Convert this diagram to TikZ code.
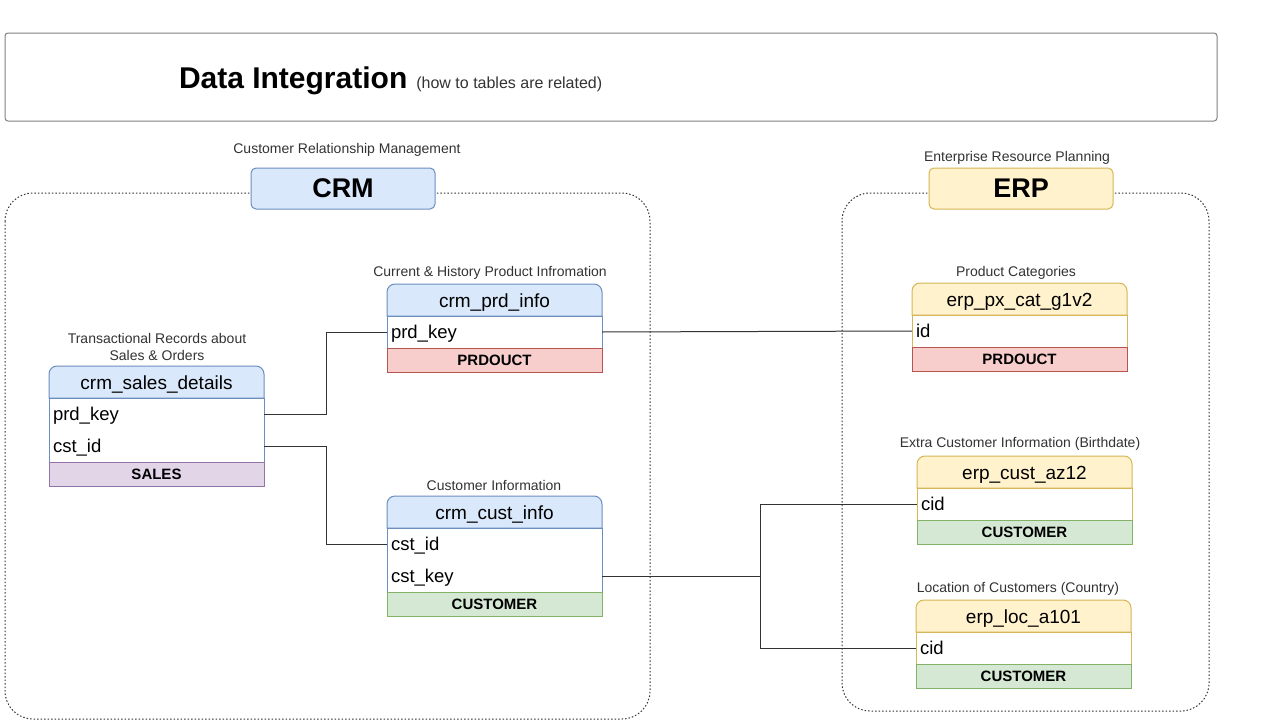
\documentclass[tikz,border=0pt]{standalone}
\usepackage{fontspec}
\setmainfont{Liberation Sans}
\usetikzlibrary{backgrounds}
\definecolor{crmfill}{HTML}{DAE8FC}
\definecolor{crmline}{HTML}{6C8EBF}
\definecolor{erpfill}{HTML}{FFF2CC}
\definecolor{erpline}{HTML}{D6B656}
\definecolor{prfill}{HTML}{F8CECC}
\definecolor{prline}{HTML}{B85450}
\definecolor{cufill}{HTML}{D5E8D4}
\definecolor{culine}{HTML}{82B366}
\definecolor{safill}{HTML}{E1D5E7}
\definecolor{saline}{HTML}{9673A6}
\definecolor{ink}{HTML}{333333}
\definecolor{boxgray}{HTML}{808080}
\newcommand\fsz[1]{\fontsize{#1}{#1}\selectfont}
\newcommand\tblbg[5]{%
  \begin{scope}[on background layer]
    \draw[draw=#4, fill=#5, line width=1pt] (#1.south west) [rounded corners=8pt] -- (#1.north west) -- (#1.north east) [sharp corners] -- (#1.south east) -- cycle;
    \draw[draw=#4, fill=white, line width=1pt] (#2.north west) rectangle (#3.south east);
  \end{scope}}
\tikzset{
  every node/.style={inner sep=0pt, outer sep=0pt},
  hdr/.style={anchor=north west, minimum width=215pt, minimum height=32pt, font=\fsz{19}, text height=16.5pt, text depth=2.5pt},
  rowtxt/.style={anchor=north west, minimum width=215pt, minimum height=32pt, text width=207pt, align=left, inner xsep=4pt, font=\fsz{18.5}, text height=16pt, text depth=2.5pt},
  band/.style={anchor=north west, minimum width=215pt, minimum height=24pt, font=\bfseries\fsz{15}, draw=#1line, fill=#1fill, line width=1pt},
  captxt/.style={font=\fontsize{14}{17}\selectfont, text=ink, align=center},
  conn/.style={draw=ink, line width=1pt},
  container/.style={draw=ink, line width=1pt, dash pattern=on 1.5pt off 2pt, rounded corners=28pt},
  sysbox/.style={rounded corners=5pt, minimum width=184pt, minimum height=41pt, font=\bfseries\fsz{27}, line width=1pt}
}
\begin{document}
\begin{tikzpicture}[x=1pt, y=-1pt]
\useasboundingbox (0,0) rectangle (1280,720);
\begin{scope}[on background layer]
\fill[white] (0,0) rectangle (1280,720);
\end{scope}

% title
\node[draw=boxgray, rounded corners=3pt, minimum width=1212pt, minimum height=88pt, anchor=north west, line width=1pt] (tb) at (5,33) {};
\node[anchor=base west, font=\bfseries\fsz{30}] (tt) at (179,88) {Data Integration};
\node[anchor=base west, font=\fsz{16}, text=ink] (ts) at ([xshift=9pt]tt.base east) {(how to tables are related)};

% containers
\draw[container] (5,193) rectangle (650,719);
\draw[container] (842,193) rectangle (1209,711);
\node[sysbox, draw=crmline, fill=crmfill] (crm) at (343,188.5) {CRM};
\node[sysbox, draw=erpline, fill=erpfill] (erp) at (1021,188.5) {ERP};
\node[captxt] (crmcap) at (347,150) {Customer Relationship Management};
\node[captxt] (erpcap) at (1017,158) {Enterprise Resource Planning};

% crm_sales_details
\node[captxt] (scap) at (157,347) {Transactional Records about\\Sales \& Orders};
\node[hdr] (sh) at (49,366) {crm\_sales\_details};
\node[rowtxt] (s1) at (sh.south west) {prd\_key};
\node[rowtxt] (s2) at (s1.south west) {cst\_id};
\node[band=sa] (sb) at (s2.south west) {SALES};
\tblbg{sh}{s1}{s2}{crmline}{crmfill}

% crm_prd_info
\node[captxt] (pcap) at (490,273) {Current \& History Product Infromation};
\node[hdr] (ph) at (387,284) {crm\_prd\_info};
\node[rowtxt] (p1) at (ph.south west) {prd\_key};
\node[band=pr] (pb) at (p1.south west) {PRDOUCT};
\tblbg{ph}{p1}{p1}{crmline}{crmfill}

% crm_cust_info
\node[captxt] (ccap) at (494,485) {Customer Information};
\node[hdr] (ch) at (387,496) {crm\_cust\_info};
\node[rowtxt] (c1) at (ch.south west) {cst\_id};
\node[rowtxt] (c2) at (c1.south west) {cst\_key};
\node[band=cu] (cb) at (c2.south west) {CUSTOMER};
\tblbg{ch}{c1}{c2}{crmline}{crmfill}

% erp_px_cat_g1v2
\node[captxt] (xcap) at (1016,273) {Product Categories};
\node[hdr] (xh) at (912,283) {erp\_px\_cat\_g1v2};
\node[rowtxt] (x1) at (xh.south west) {id};
\node[band=pr] (xb) at (x1.south west) {PRDOUCT};
\tblbg{xh}{x1}{x1}{erpline}{erpfill}

% erp_cust_az12
\node[captxt] (acap) at (1020,444) {Extra Customer Information (Birthdate)};
\node[hdr] (ah) at (917,456) {erp\_cust\_az12};
\node[rowtxt] (a1) at (ah.south west) {cid};
\node[band=cu] (ab) at (a1.south west) {CUSTOMER};
\tblbg{ah}{a1}{a1}{erpline}{erpfill}

% erp_loc_a101
\node[captxt] (lcap) at (1018,589) {Location of Customers (Country)};
\node[hdr] (lh) at (916,600) {erp\_loc\_a101};
\node[rowtxt] (l1) at (lh.south west) {cid};
\node[band=cu] (lb) at (l1.south west) {CUSTOMER};
\tblbg{lh}{l1}{l1}{erpline}{erpfill}

% connectors
\draw[conn] (s1.east) -- ++(62,0) |- (p1.west);
\draw[conn] (s2.east) -- ++(62,0) |- (c1.west);
\draw[conn] (p1.east) -- (x1.west);
\coordinate (jn) at (760,576);
\draw[conn] (c2.east) -- (jn);
\draw[conn] (jn) |- (a1.west);
\draw[conn] (jn) |- (l1.west);
\end{tikzpicture}
\end{document}
